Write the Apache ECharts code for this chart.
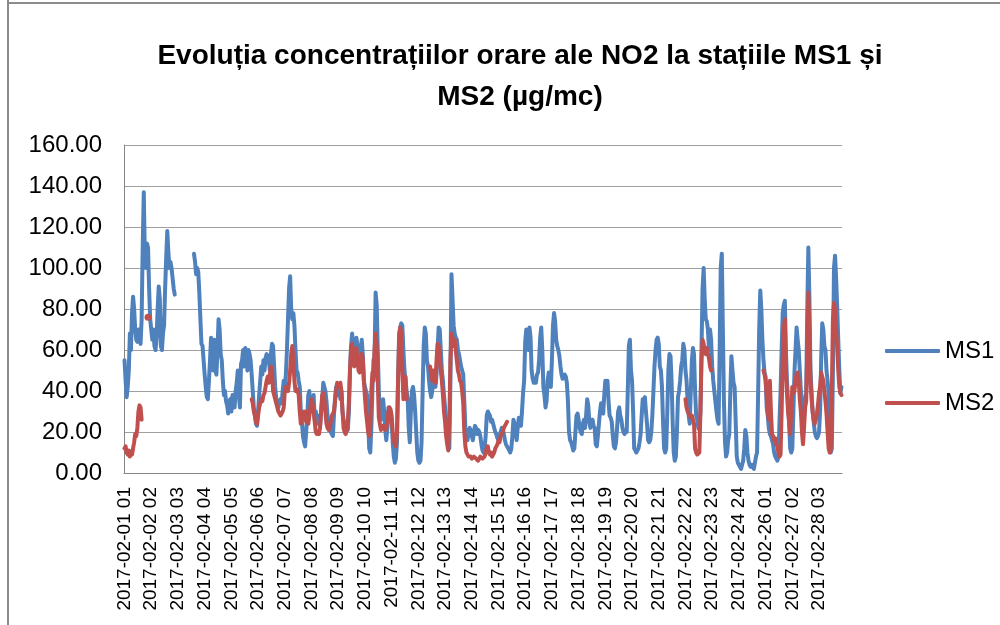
<!DOCTYPE html>
<html>
<head>
<meta charset="utf-8">
<script src="https://cdn.jsdelivr.net/npm/echarts@6/dist/echarts.min.js"></script>
<style>html,body{margin:0;padding:0;background:#fff}#c{width:1000px;height:625px}</style>
</head>
<body>
<div id="c"></div>
<script>
const titleText = 'Evoluția concentrațiilor orare ale NO2 la stațiile MS1 și\nMS2 (µg/mc)';
const seriesNames = ['MS1', 'MS2'];
const yMin = 0, yMax = 160, yStep = 20;

// hourly categories: 28 days x hours 01..24
const dayList = ['01','02','03','04','05','06','07','08','09','10','11','12','13','14','15','16','17','18','19','20','21','22','23','24','25','26','27','28'];
const hourList = ['01','02','03','04','05','06','07','08','09','10','11','12','13','14','15','16','17','18','19','20','21','22','23','24'];
const categories = [];
dayList.forEach(d => hourList.forEach(h => categories.push('2017-02-' + d + ' ' + h)));

// MS1 hourly values (one row per day)
const ms1 = [
 55,45,37,42,50,68,60,78,86,80,70,65,64,70,65,63,75,110,137,106,100,112,110,90,
 75,70,65,70,62,60,66,80,91,85,62,60,68,72,90,105,118,108,100,103,100,95,90,87,
 null,null,null,null,null,null,null,null,null,null,null,null,null,null,null,null,null,107,103,97,100,98,88,75,
 63,62,55,48,42,37,36,45,55,66,62,50,65,50,48,60,75,70,58,55,45,38,40,35,
 33,29,35,36,30,38,34,32,40,44,50,38,32,53,55,60,52,61,58,50,60,58,55,48,
 40,32,28,24,23,30,38,45,52,48,55,50,56,58,57,55,50,58,63,62,52,42,36,33,
 32,35,36,34,40,45,42,48,60,75,90,96,80,75,78,72,60,50,49,45,42,30,25,18,
 15,13,20,28,38,40,30,35,32,38,26,30,24,28,25,23,30,36,44,42,40,35,28,25,
 22,20,19,18,28,36,42,40,38,42,36,40,30,26,24,22,25,21,30,50,62,68,62,58,
 60,66,62,58,56,60,65,58,45,42,40,38,25,12,10,22,40,55,57,88,82,60,40,30,
 26,32,36,30,21,16,22,32,30,29,25,15,8,5,7,15,45,68,71,73,72,60,50,45,
 40,36,22,15,30,40,42,38,30,20,10,6,5,6,15,40,62,71,68,55,52,45,40,37,
 40,48,45,42,48,60,71,70,60,50,45,38,32,25,22,15,12,45,97,85,72,68,66,65,
 60,58,55,52,50,48,35,22,18,16,20,22,21,18,16,20,23,22,19,21,20,18,14,11,
 10,12,18,28,30,29,28,25,26,24,22,20,19,17,16,18,20,22,21,19,16,14,13,12,
 11,10,12,18,26,24,20,16,22,27,24,23,30,39,45,64,70,65,60,71,66,50,46,44,
 46,44,48,49,55,66,71,60,42,38,32,35,45,49,46,42,55,72,78,74,65,62,60,57,
 52,48,46,47,48,47,44,35,20,16,15,13,11,12,20,28,29,26,22,20,19,24,26,22,
 28,36,33,25,22,25,26,23,22,14,13,18,24,30,34,30,29,38,45,44,45,35,28,27,
 25,18,13,12,15,22,30,32,28,26,22,20,19,21,20,40,62,65,50,45,30,12,11,10,
 10,12,15,19,28,36,35,37,30,24,16,15,16,20,28,40,52,60,65,66,63,52,50,42,
 25,12,10,12,30,50,58,57,45,25,10,6,8,20,37,40,45,52,55,63,60,50,45,35,
 28,24,40,55,61,58,40,28,26,22,21,30,60,90,100,85,75,74,70,60,70,65,52,45,
 40,35,30,26,24,60,100,107,70,35,15,8,10,16,19,40,57,50,44,42,25,8,5,4,
 3,2,4,6,12,21,18,10,6,4,3,4,3,2,5,8,10,39,70,89,80,65,55,49,
 47,32,28,22,19,18,16,14,10,8,7,6,8,25,40,60,78,82,84,60,45,35,24,12,
 10,12,30,49,60,71,65,60,50,40,36,30,28,35,39,80,110,85,50,40,30,25,20,18,
 17,18,20,30,55,73,70,62,60,50,45,39,20,10,12,50,100,106,95,81,65,50,39,42
];

// MS2 runs of consecutive hourly values, each with the hour where it starts
const ms2RunA = [12,13,10,9,11,8,10,9,12,15,19,18,22,30,33,32,26];
const ms2RunB = [76];
const ms2RunC = [
 36,
 34,30,28,25,24,28,32,34,36,35,38,39,42,45,47,44,48,52,50,40,38,36,34,32,
 30,29,28,29,30,32,40,42,42,40,44,50,58,62,55,45,40,41,40,38,30,24,26,27,
 30,28,25,30,24,28,32,36,34,30,25,20,19,20,19,22,30,38,39,36,30,24,22,21,
 22,25,28,29,30,35,40,44,43,42,44,40,30,22,20,19,21,25,35,50,60,63,55,52,
 58,61,55,50,49,52,58,56,45,37,30,25,20,18,22,40,49,45,60,68,62,45,27,24,
 21,22,23,22,21,22,25,30,32,31,28,20,16,14,13,20,45,65,71,68,50,36,40,47,
 36
];
const ms2RunD = [
 52,48,
 45,50,46,44,55,63,62,58,50,45,38,30,25,18,14,11,25,55,68,66,62,65,60,55,
 50,48,45,44,40,34,20,13,10,9,8,8,8,7,7,8,8,7,7,6,7,8,8,7,
 7,8,10,12,13,10,9,10,8,9,10,12,13,14,16,15,18,19,20,22,23,24,25
];
const ms2RunE = [
 36,32,30,
 29,28,27,28,26,24,12,10,9,9,10,30,55,65,63,60,58,61,58,56,52,50
];
const ms2RunF = [
 50,48,
 45,38,30,26,45,30,19,18,16,17,14,13,10,8,9,30,55,70,75,50,39,30,25,19,
 30,42,39,40,45,48,49,45,36,30,20,14,22,32,35,60,88,70,45,36,30,26,24,26,
 29,33,39,42,49,47,45,40,35,29,20,12,10,11,40,75,83,80,70,61,50,42,39,38
];
const ms2Runs = [
 ['2017-02-01 01', ms2RunA],
 ['2017-02-01 23', ms2RunB],
 ['2017-02-05 24', ms2RunC],
 ['2017-02-12 23', ms2RunD],
 ['2017-02-22 22', ms2RunE],
 ['2017-02-25 23', ms2RunF]
];
const ms2 = categories.map(() => null);
ms2Runs.forEach(([start, vals]) => {
  const s = categories.indexOf(start);
  vals.forEach((v, k) => { ms2[s + k] = v; });
});

function isolatedSize(arr) {
  return function (val, params) {
    const i = params.dataIndex;
    const prev = i > 0 ? arr[i - 1] : null;
    const next = i < arr.length - 1 ? arr[i + 1] : null;
    return (arr[i] != null && prev == null && next == null) ? 7 : 0;
  };
}

const colors = ['#4F81BD', '#C0504D'];
const font = 'Liberation Sans';

const chart = echarts.init(document.getElementById('c'), null, { renderer: 'canvas' });
chart.setOption({
  animation: false,
  backgroundColor: '#ffffff',
  title: {
    text: titleText,
    left: 515,
    top: 31,
    textAlign: 'center',
    textStyle: { fontFamily: font, fontWeight: 'bold', fontSize: 28, color: '#000', lineHeight: 41 }
  },
  legend: {
    data: seriesNames,
    orient: 'vertical',
    left: 880,
    top: 334,
    itemWidth: 55,
    itemHeight: 4,
    itemGap: 28,
    icon: 'roundRect',
    textStyle: { fontFamily: font, fontSize: 24, color: '#000' }
  },
  grid: { left: 124, right: 158, top: 145, bottom: 152 },
  xAxis: {
    type: 'category',
    data: categories,
    boundaryGap: true,
    axisTick: { show: false },
    axisLine: { lineStyle: { color: '#868686', width: 1 } },
    splitLine: { show: false },
    axisLabel: { interval: 24, rotate: 90, fontFamily: font, fontSize: 19, color: '#000', margin: 14 }
  },
  yAxis: {
    type: 'value',
    min: yMin, max: yMax, interval: yStep,
    axisLine: { show: true, lineStyle: { color: '#868686', width: 1 } },
    axisTick: { show: false },
    splitLine: { lineStyle: { color: '#a0a0a0', width: 1 } },
    axisLabel: { formatter: v => v.toFixed(2), fontFamily: font, fontSize: 24, color: '#000', margin: 22 }
  },
  graphic: [
    { type: 'line', shape: { x1: 8, y1: 0, x2: 8, y2: 625 }, style: { stroke: '#8c8c8c', lineWidth: 2 } },
    { type: 'line', shape: { x1: 8, y1: 3, x2: 1000, y2: 3 }, style: { stroke: '#8c8c8c', lineWidth: 2 } }
  ],
  series: [
    {
      name: seriesNames[0], type: 'line', data: ms1,
      showSymbol: true, showAllSymbol: true, symbol: 'circle', symbolSize: isolatedSize(ms1),
      connectNulls: false, itemStyle: { color: colors[0] },
      lineStyle: { color: colors[0], width: 4, cap: 'round', join: 'round' },
      emphasis: { disabled: true }
    },
    {
      name: seriesNames[1], type: 'line', data: ms2,
      showSymbol: true, showAllSymbol: true, symbol: 'circle', symbolSize: isolatedSize(ms2),
      connectNulls: false, itemStyle: { color: colors[1] },
      lineStyle: { color: colors[1], width: 4, cap: 'round', join: 'round' },
      emphasis: { disabled: true }
    }
  ]
});
</script>
</body>
</html>
